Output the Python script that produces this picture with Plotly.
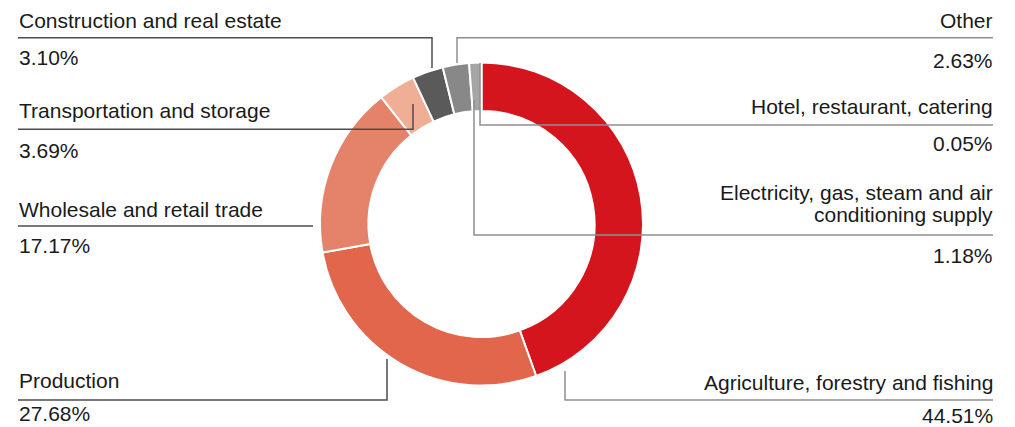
import plotly.graph_objects as go

# ---- data ----
categories = [
    "Agriculture, forestry and fishing",
    "Production",
    "Wholesale and retail trade",
    "Transportation and storage",
    "Construction and real estate",
    "Other",
    "Electricity, gas, steam and air conditioning supply",
    "Hotel, restaurant, catering",
]
values = [44.51, 27.68, 17.17, 3.69, 3.10, 2.63, 1.18, 0.05]

# ---- styling / layout (pixel positions in the 1015x427 page) ----
PAGE_OFF = 8            # default body margin of the html page
W, H = 1015 - PAGE_OFF, 427 - PAGE_OFF
colors = ["#d4151e", "#e1664c", "#e5826a", "#efae95",
          "#5a5a5a", "#888888", "#a5a5a5", "#c0c0c0"]
cx, cy, R = 481.5, 224.0, 161.5

label_lines = [
    ["Agriculture, forestry and fishing"],
    ["Production"],
    ["Wholesale and retail trade"],
    ["Transportation and storage"],
    ["Construction and real estate"],
    ["Other"],
    ["Electricity, gas, steam and air", "conditioning supply"],
    ["Hotel, restaurant, catering"],
]
side = ["right", "left", "left", "left", "left", "right", "right", "right"]
label_y = [[382.5], [380.5], [209.5], [110.5], [20.3], [20.0], [192.0, 215.0], [106.7]]
pct_y = [415.0, 413.5, 245.0, 150.5, 57.5, 60.5, 256.0, 143.5]
leaders = [
    [(993, 400), (565, 400), (565, 371)],
    [(18, 400), (387, 400), (387, 359)],
    [(18, 226), (313, 226)],
    [(18, 129.3), (413, 129.3), (413, 104)],
    [(18, 37.7), (432, 37.7), (432, 68)],
    [(993, 37.7), (457, 37.7), (457, 63)],
    [(993, 235), (474, 235), (474, 100)],
    [(993, 125), (480, 125), (480, 63)],
]
text_left_x, text_right_x = 17.5, 993.5
dark_line, light_line = "#4d4d4d", "#8e8e8e"
text_color = "#1a1a1a"
FONT = "Liberation Sans, Arial, sans-serif"
FS = 21


def px(x):
    return (x - PAGE_OFF) / W


def py(y):
    return 1 - (y - PAGE_OFF) / H


fig = go.Figure()
fig.add_trace(go.Pie(
    labels=categories,
    values=values,
    sort=False,
    direction="clockwise",
    rotation=0,
    hole=0.70,
    marker=dict(colors=colors, line=dict(color="white", width=2)),
    textinfo="none",
    hoverinfo="label+percent",
    domain=dict(x=[px(cx - R), px(cx + R)], y=[py(cy + R), py(cy - R)]),
))

annotations = []
shapes = []
for i, cat in enumerate(categories):
    xa = text_left_x if side[i] == "left" else text_right_x
    for line_text, yy in zip(label_lines[i], label_y[i]):
        annotations.append(dict(
            x=px(xa), y=py(yy), xref="paper", yref="paper",
            text=line_text, showarrow=False, borderpad=0,
            xanchor=side[i], yanchor="middle",
            font=dict(family=FONT, size=FS, color=text_color),
        ))
    annotations.append(dict(
        x=px(xa), y=py(pct_y[i]), xref="paper", yref="paper",
        text=f"{values[i]:.2f}%", showarrow=False, borderpad=0,
        xanchor=side[i], yanchor="middle",
        font=dict(family=FONT, size=FS, color=text_color),
    ))
    pts = leaders[i]
    path = "M " + " L ".join(f"{px(x):.5f},{py(y):.5f}" for x, y in pts)
    shapes.append(dict(
        type="path", path=path, xref="paper", yref="paper",
        line=dict(color=dark_line if side[i] == "left" else light_line, width=1.5),
        layer="above",
    ))

fig.update_layout(
    width=W, height=H,
    margin=dict(l=0, r=0, t=0, b=0),
    paper_bgcolor="white", plot_bgcolor="white",
    showlegend=False,
    annotations=annotations,
    shapes=shapes,
)

fig.write_html("out.html")
